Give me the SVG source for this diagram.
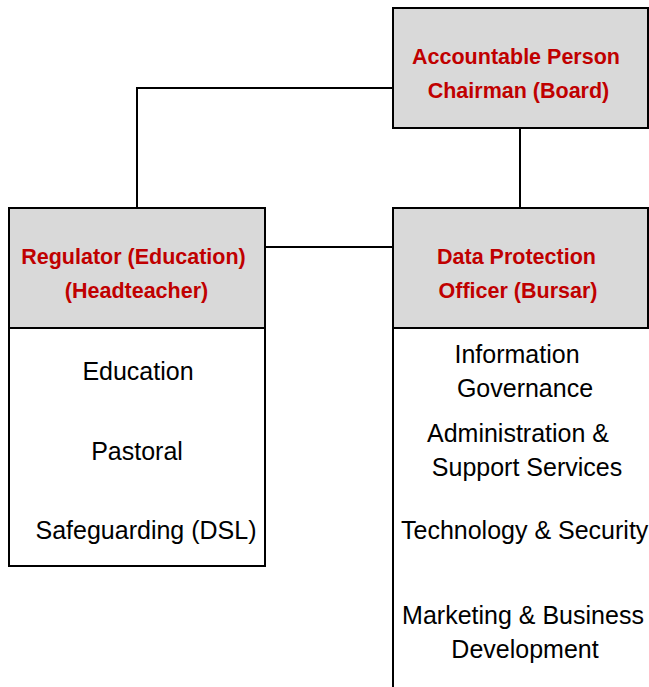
<svg xmlns="http://www.w3.org/2000/svg" width="649" height="687" viewBox="0 0 649 687">
<style>
.hdr{fill:#d9d9d9;stroke:#000;stroke-width:2}
.body{fill:#fff;stroke:#000;stroke-width:2}
.ht{font-family:"Liberation Sans",Arial,sans-serif;font-weight:bold;font-size:21.5px;fill:#c00000;text-anchor:middle}
.bt{font-family:"Liberation Sans",Arial,sans-serif;font-size:25px;fill:#000}
.conn{fill:none;stroke:#000;stroke-width:2}
</style>
<rect width="649" height="687" fill="#fff"/>
<g id="connectors">
<polyline class="conn" points="393,88 137,88 137,208"/>
<line class="conn" x1="520" y1="128" x2="520" y2="208"/>
<line class="conn" x1="265" y1="247" x2="393" y2="247"/>
</g>
<g id="accountable">
<rect class="hdr" x="393" y="8" width="255" height="120"/>
<text class="ht" x="516" y="64">Accountable Person</text>
<text class="ht" x="518.5" y="98">Chairman (Board)</text>
</g>
<g id="regulator">
<rect class="hdr" x="9" y="208" width="256" height="120"/>
<text class="ht" x="133.5" y="264">Regulator (Education)</text>
<text class="ht" x="136.5" y="298">(Headteacher)</text>
</g>
<g id="regulator-list">
<rect class="body" x="9" y="328" width="256" height="238"/>
<text class="bt" x="138" y="380" text-anchor="middle">Education</text>
<text class="bt" x="137" y="460" text-anchor="middle">Pastoral</text>
<text class="bt" x="146" y="539" text-anchor="middle">Safeguarding (DSL)</text>
</g>
<g id="dpo">
<rect class="hdr" x="393" y="208" width="255" height="120"/>
<text class="ht" x="516.5" y="264">Data Protection</text>
<text class="ht" x="518" y="298">Officer (Bursar)</text>
</g>
<g id="dpo-list">
<rect class="body" x="393" y="328" width="260" height="365"/>
<text class="bt" x="517" y="363" text-anchor="middle">Information</text>
<text class="bt" x="525" y="397" text-anchor="middle">Governance</text>
<text class="bt" x="518" y="442" text-anchor="middle">Administration &amp;</text>
<text class="bt" x="527" y="476" text-anchor="middle">Support Services</text>
<text class="bt" x="401" y="539">Technology &amp; Security</text>
<text class="bt" x="523" y="624" text-anchor="middle">Marketing &amp; Business</text>
<text class="bt" x="525" y="658" text-anchor="middle">Development</text>
</g>
</svg>
